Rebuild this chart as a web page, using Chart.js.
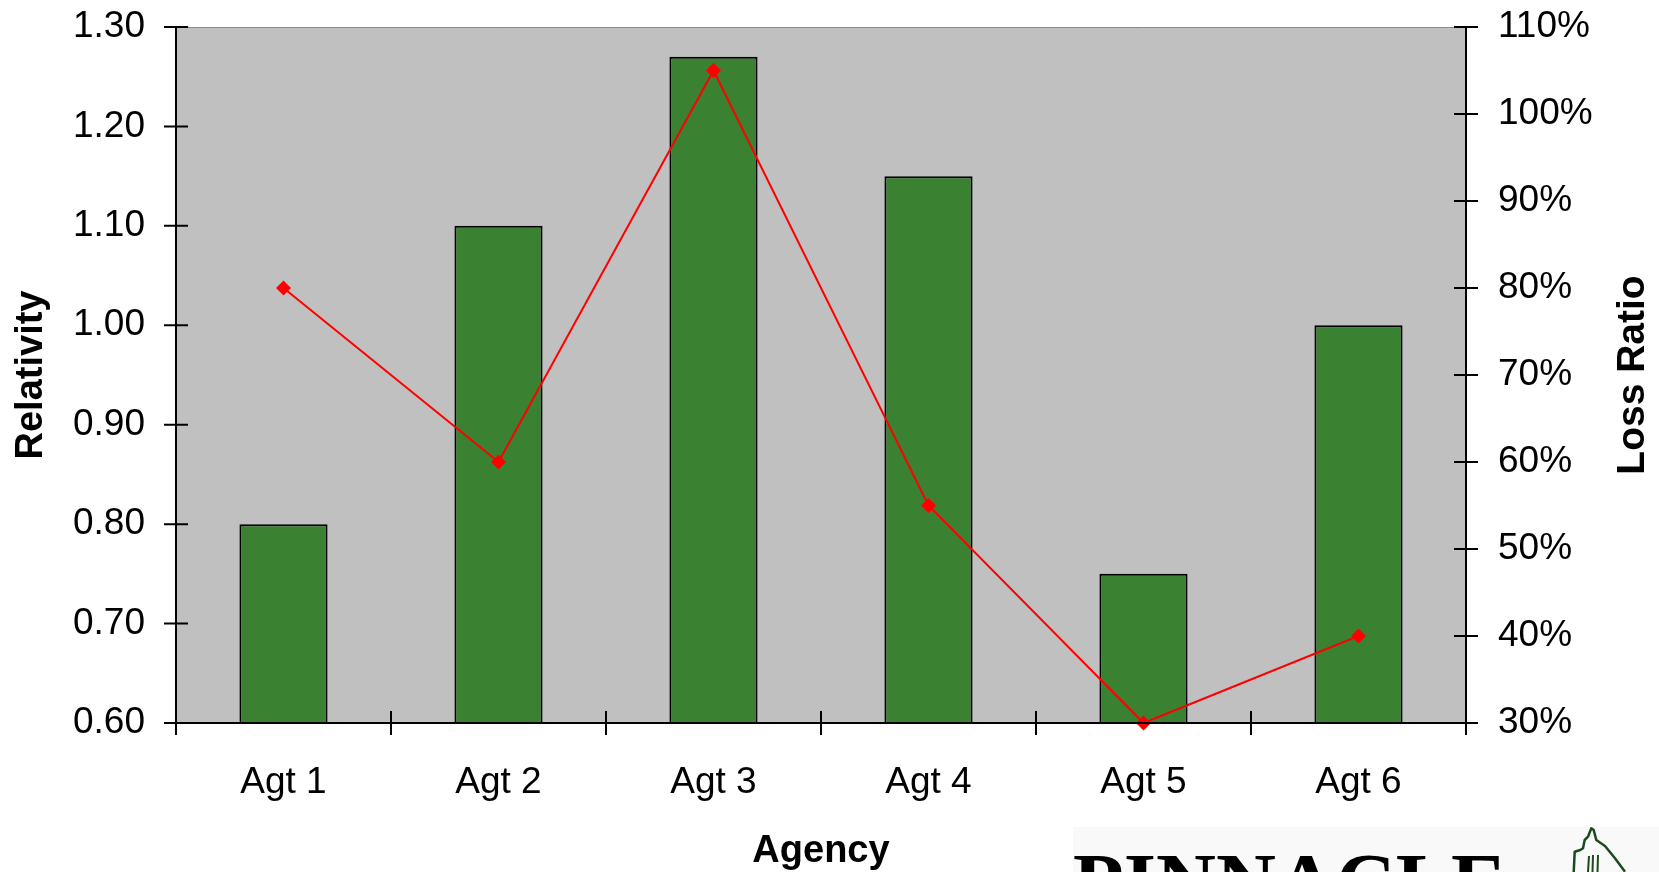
<!DOCTYPE html>
<html>
<head>
<meta charset="utf-8">
<script src="https://cdn.jsdelivr.net/npm/chart.js@4/dist/chart.umd.min.js"></script>
<style>
  html, body { margin: 0; padding: 0; background: #fff; overflow: hidden; }
  #wrap { position: relative; width: 1659px; height: 872px; }
  #logo { position: absolute; left: 1073px; top: 827px; width: 586px; height: 45px; background: #f9f9f9; overflow: hidden; }
  #logo span { position: absolute; left: 0; top: 14px; font: bold 83px "Liberation Serif", "Times New Roman", serif; line-height: 83px; color: #000; white-space: nowrap; }
  #logo svg { position: absolute; left: 490px; top: -7px; }
</style>
</head>
<body>
<div id="wrap">
  <canvas id="chart" width="1659" height="872"></canvas>
  <div id="logo">
    <span>PINNACLE</span>
    <svg width="99" height="52" viewBox="0 0 99 52">
      <path d="M10.7 52.3 L11.7 31.7 L17.3 30 L20 28.3 L21.7 20 L25 16.7 L28.3 8.3 L30.7 10 L33.3 20 L42 26 L52 38.3 L62 51.7"
            fill="none" stroke="#1d4a1d" stroke-width="2.5" stroke-linejoin="round"/>
      <path d="M26 36 L25 52 M30 35 L29.5 52 M35 35 L34.5 52" fill="none" stroke="#1d4a1d" stroke-width="2"/>
    </svg>
  </div>
</div>
<script>
const agencies = ['Agt 1', 'Agt 2', 'Agt 3', 'Agt 4', 'Agt 5', 'Agt 6'];
const relativity = [0.80, 1.10, 1.27, 1.15, 0.75, 1.00];
const lossRatio = [80, 60, 105, 55, 30, 40];

const FONT = '"Liberation Sans", Arial, sans-serif';

// grey plot area, axis lines and Excel-style ticks that cross the axis
const plotFrame = {
  id: 'plotFrame',
  beforeDatasetsDraw(chart){
    const {ctx, chartArea: a} = chart;
    ctx.save();
    ctx.fillStyle = '#c0c0c0';
    ctx.fillRect(a.left, a.top, a.right - a.left, a.bottom - a.top);
    ctx.strokeStyle = '#8a8a8a';
    ctx.lineWidth = 1;
    ctx.beginPath();
    ctx.moveTo(a.left, a.top + 0.5);
    ctx.lineTo(a.right, a.top + 0.5);
    ctx.stroke();
    ctx.restore();
  },
  afterDraw(chart){
    const {ctx, chartArea: a, scales} = chart;
    const t = 12;
    ctx.save();
    ctx.strokeStyle = '#000';
    ctx.lineWidth = 2;
    ctx.beginPath();
    ctx.moveTo(a.left, a.top); ctx.lineTo(a.left, a.bottom);
    ctx.moveTo(a.right, a.top); ctx.lineTo(a.right, a.bottom);
    ctx.moveTo(a.left - t, a.bottom); ctx.lineTo(a.right + t, a.bottom);
    scales.y.ticks.forEach(tk => {
      const py = scales.y.getPixelForValue(tk.value);
      ctx.moveTo(a.left - t, py); ctx.lineTo(a.left + t, py);
    });
    scales.y1.ticks.forEach(tk => {
      const py = scales.y1.getPixelForValue(tk.value);
      ctx.moveTo(a.right - t, py); ctx.lineTo(a.right + t, py);
    });
    const n = agencies.length;
    const step = (a.right - a.left) / n;
    for(let i=0;i<=n;i++){
      const px = a.left + i*step;
      ctx.moveTo(px, a.bottom - t); ctx.lineTo(px, a.bottom + t);
    }
    ctx.stroke();

    // right axis title, reading upwards
    ctx.fillStyle = '#000';
    ctx.font = 'bold 39px ' + FONT;
    ctx.textAlign = 'center';
    ctx.textBaseline = 'middle';
    ctx.translate(1633, (a.top + a.bottom) / 2);
    ctx.rotate(-Math.PI / 2);
    ctx.fillText('Loss Ratio', 0, 0);
    ctx.restore();
  }
};

const ctx = document.getElementById('chart').getContext('2d');
new Chart(ctx, {
  data: {
    labels: agencies,
    datasets: [
      {
        type: 'line', label: 'Loss Ratio', data: lossRatio, yAxisID: 'y1', order: 0,
        borderColor: '#ff0000', borderWidth: 2, backgroundColor: '#ff0000',
        pointStyle: 'rectRot', pointRadius: 7.5, pointBorderWidth: 0, tension: 0, clip: false
      },
      {
        type: 'bar', label: 'Relativity', data: relativity, yAxisID: 'y', order: 1,
        backgroundColor: '#3a8231', borderColor: '#000', borderWidth: 2,
        barPercentage: 0.41, categoryPercentage: 1
      }
    ]
  },
  options: {
    responsive: false,
    animation: false,
    layout: { padding: { top: 27, left: 0, right: 0, bottom: 0 } },
    plugins: { legend: { display: false }, tooltip: { enabled: false } },
    scales: {
      x: {
        grid: { display: false, drawTicks: false },
        border: { display: false },
        ticks: { color: '#000', font: { family: FONT, size: 37 }, padding: 38, maxRotation: 0 },
        title: { display: true, text: 'Agency', color: '#000', font: { family: FONT, size: 38, weight: 'bold' }, padding: { top: 0, bottom: -2 } },
        afterFit(s){ s.height = 149; }
      },
      y: {
        position: 'left', min: 0.6, max: 1.3,
        grid: { display: false, drawTicks: false },
        border: { display: false },
        ticks: { stepSize: 0.1, color: '#000', font: { family: FONT, size: 37 }, padding: 31, callback: v => v.toFixed(2) },
        title: { display: true, text: 'Relativity', color: '#000', font: { family: FONT, size: 38, weight: 'bold' }, padding: { top: 9, bottom: 0 } },
        afterFit(s){ s.width = 176; s.paddingTop = 0; s.paddingBottom = 0; }
      },
      y1: {
        position: 'right', min: 30, max: 110,
        grid: { display: false, drawTicks: false },
        border: { display: false },
        ticks: { stepSize: 10, color: '#000', font: { family: FONT, size: 37 }, padding: 32, callback: v => v + '%' },
        afterFit(s){ s.width = 193; s.paddingTop = 0; s.paddingBottom = 0; }
      }
    }
  },
  plugins: [plotFrame]
});
</script>
</body>
</html>
